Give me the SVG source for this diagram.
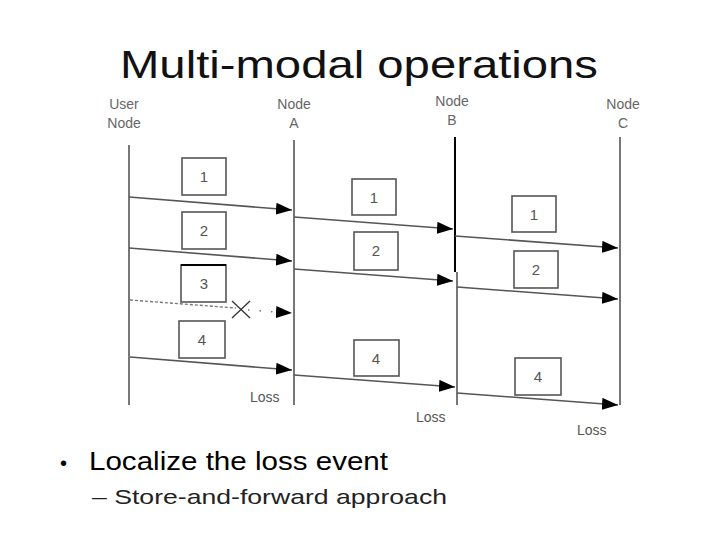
<svg xmlns="http://www.w3.org/2000/svg" width="720" height="540" viewBox="0 0 720 540">
<defs>
<marker id="ah" markerWidth="16" markerHeight="12" refX="16" refY="6" orient="auto" markerUnits="userSpaceOnUse">
<path d="M0,0 L16,6 L0,12 Z" fill="#000"/>
</marker>
<style>
.life{stroke:#777;stroke-width:2;fill:none}
.msg{stroke:#555;stroke-width:1.6;fill:none}
.box{fill:#fff;stroke:#555;stroke-width:1.6}
.num{font-family:"Liberation Sans",Arial,sans-serif;font-size:15px;fill:#555;text-anchor:middle}
.lbl{font-family:"Liberation Sans",Arial,sans-serif;font-size:14px;fill:#666;text-anchor:middle}
.loss{font-family:"Liberation Sans",Arial,sans-serif;font-size:14px;fill:#555}
</style>
</defs>
<rect width="720" height="540" fill="#fff"/>
<text x="359" y="78" font-family="'Liberation Sans',Arial,sans-serif" font-size="39" textLength="478" lengthAdjust="spacingAndGlyphs" text-anchor="middle" fill="#111">Multi-modal operations</text>

<g id="node-user"><text class="lbl" x="124" y="109">User</text><text class="lbl" x="124" y="128">Node</text><line class="life" x1="129" y1="145" x2="129" y2="405"/></g>
<g id="node-a"><text class="lbl" x="294" y="109">Node</text><text class="lbl" x="294" y="128">A</text><line class="life" x1="294" y1="140" x2="294" y2="405"/></g>
<g id="node-b"><text class="lbl" x="452" y="106">Node</text><text class="lbl" x="452" y="125">B</text><line x1="455" y1="137" x2="455" y2="272" stroke="#000" stroke-width="2"/><line class="life" x1="457" y1="272" x2="457" y2="405"/></g>
<g id="node-c"><text class="lbl" x="623" y="109">Node</text><text class="lbl" x="623" y="128">C</text><line class="life" x1="620" y1="137" x2="620" y2="405"/></g>

<g id="packets">
<rect class="box" x="182" y="158" width="44" height="37"/><text class="num" x="204" y="182">1</text>
<rect class="box" x="182" y="212" width="44" height="37"/><text class="num" x="204" y="236">2</text>
<rect class="box" x="181" y="265" width="45" height="37"/><line x1="181" y1="265" x2="226" y2="265" stroke="#000" stroke-width="2"/><text class="num" x="204" y="289">3</text>
<rect class="box" x="179" y="321" width="46" height="37"/><text class="num" x="202" y="345">4</text>
<rect class="box" x="352" y="179" width="44" height="36"/><text class="num" x="374" y="203">1</text>
<rect class="box" x="354" y="232" width="44" height="38"/><text class="num" x="376" y="256">2</text>
<rect class="box" x="354" y="340" width="45" height="36"/><text class="num" x="376" y="364">4</text>
<rect class="box" x="512" y="196" width="44" height="36" stroke="#222"/><text class="num" x="534" y="220">1</text>
<rect class="box" x="514" y="251" width="44" height="37"/><text class="num" x="536" y="275">2</text>
<rect class="box" x="515" y="358" width="46" height="37"/><text class="num" x="538" y="382">4</text>
</g>

<g id="connectors">
<line class="msg" x1="129" y1="197" x2="292" y2="210" marker-end="url(#ah)"/>
<line class="msg" x1="129" y1="248" x2="292" y2="261" marker-end="url(#ah)"/>
<line x1="130" y1="300" x2="236" y2="308" stroke="#777" stroke-width="1.3" stroke-dasharray="3,2"/>
<line x1="248" y1="310" x2="276" y2="312" stroke="#777" stroke-width="1.5" stroke-dasharray="1.5,10"/>
<line x1="276" y1="312" x2="292" y2="313" stroke="none" marker-end="url(#ah)"/>
<path d="M232,301 L250,318 M250,301 L232,318" stroke="#333" stroke-width="1.3" fill="none"/>
<line class="msg" x1="130" y1="357" x2="292" y2="370" marker-end="url(#ah)"/>
<line class="msg" x1="294" y1="217" x2="453" y2="229" marker-end="url(#ah)"/>
<line class="msg" x1="294" y1="269" x2="453" y2="281" marker-end="url(#ah)"/>
<line class="msg" x1="294" y1="375" x2="455" y2="387" marker-end="url(#ah)"/>
<line class="msg" x1="455" y1="236" x2="618" y2="248" marker-end="url(#ah)"/>
<line class="msg" x1="457" y1="287" x2="618" y2="299" marker-end="url(#ah)"/>
<line class="msg" x1="457" y1="393" x2="618" y2="405" marker-end="url(#ah)"/>
</g>

<text class="loss" x="250" y="402">Loss</text>
<text class="loss" x="416" y="422">Loss</text>
<text class="loss" x="577" y="435">Loss</text>

<text x="60" y="470" font-family="'Liberation Sans',Arial,sans-serif" font-size="20" fill="#000">•</text>
<text x="89" y="470" font-family="'Liberation Sans',Arial,sans-serif" font-size="25" textLength="299" lengthAdjust="spacingAndGlyphs" fill="#000">Localize the loss event</text>
<text x="92" y="504" font-family="'Liberation Sans',Arial,sans-serif" font-size="21" textLength="355" lengthAdjust="spacingAndGlyphs" fill="#222">– Store-and-forward approach</text>
</svg>
